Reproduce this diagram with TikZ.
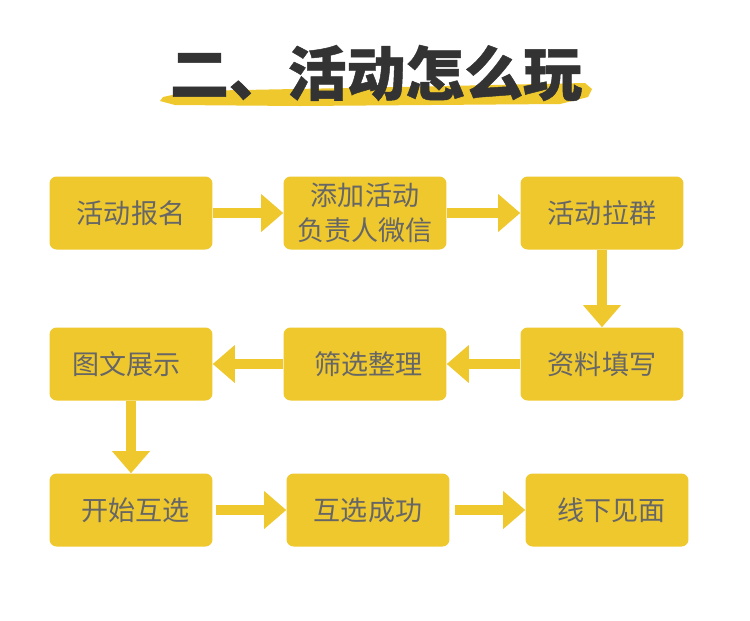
\documentclass[tikz,border=0pt]{standalone}
\usepackage{fontspec}
\newfontfamily\cjk{Noto Sans CJK SC}
\newfontfamily\cjkheavy{Noto Sans CJK SC}[BoldFeatures={FakeBold=0.8}]
\usepackage{xcolor}
\usepackage{tikz}
\usetikzlibrary{arrows.meta, positioning}
\definecolor{boxyellow}{HTML}{EFC82E}
\definecolor{boxtext}{HTML}{666666}
\definecolor{titletext}{HTML}{333333}
\tikzset{
  stepbox/.style={rectangle, rounded corners=4pt, fill=boxyellow, minimum width=3.26cm,
    minimum height=1.46cm, inner sep=0pt, text=boxtext, align=center,
    font=\cjk\fontsize{15.4}{20}\selectfont},
  flow/.style={draw=boxyellow, line width=5.7pt,
    -{Triangle[width=21.6pt, length=12.5pt, line width=0pt]}}
}
\begin{document}
\begin{tikzpicture}[x=0.02cm, y=-0.02cm]
\useasboundingbox (0,0) rectangle (750,620);
\fill[white] (0,0) rectangle (750,620);
% title
\fill[boxyellow] (163,97) -- (190,91) -- (400,87) -- (585,83) -- (592,89) -- (588,97)
  -- (560,104) -- (300,106) -- (175,105) -- (160,101) -- cycle;
\node[text=titletext, font=\cjkheavy\bfseries\fontsize{33.5}{40}\selectfont] (title) at (376,73) {二、活动怎么玩};
% boxes
\node[stepbox] (signup) at (131,213) {活动报名};
\node[stepbox] (contact) at (365,213) {添加活动\\负责人微信};
\node[stepbox] (group) at (602,213) {活动拉群};
\node[stepbox] (fill) at (602,364) {资料填写};
\node[stepbox] (sort) at (365,364) {\hspace{4pt}筛选整理};
\node[stepbox] (show) at (131,364) {图文展示\hspace{5pt}};
\node[stepbox] (pick) at (131,510) {\hspace{5pt}开始互选};
\node[stepbox] (match) at (368,510) {互选成功};
\node[stepbox] (meet) at (607,510) {\hspace{5pt}线下见面};
% arrows
\draw[flow] (signup) -- (contact);
\draw[flow] (contact) -- (group);
\draw[flow] (group) -- (fill);
\draw[flow] (fill) -- (sort);
\draw[flow] (sort) -- (show);
\draw[flow] (show) -- (pick);
\draw[flow] ([xshift=2pt]pick.east) -- (match);
\draw[flow] ([xshift=3pt]match.east) -- (meet);
\end{tikzpicture}
\end{document}
